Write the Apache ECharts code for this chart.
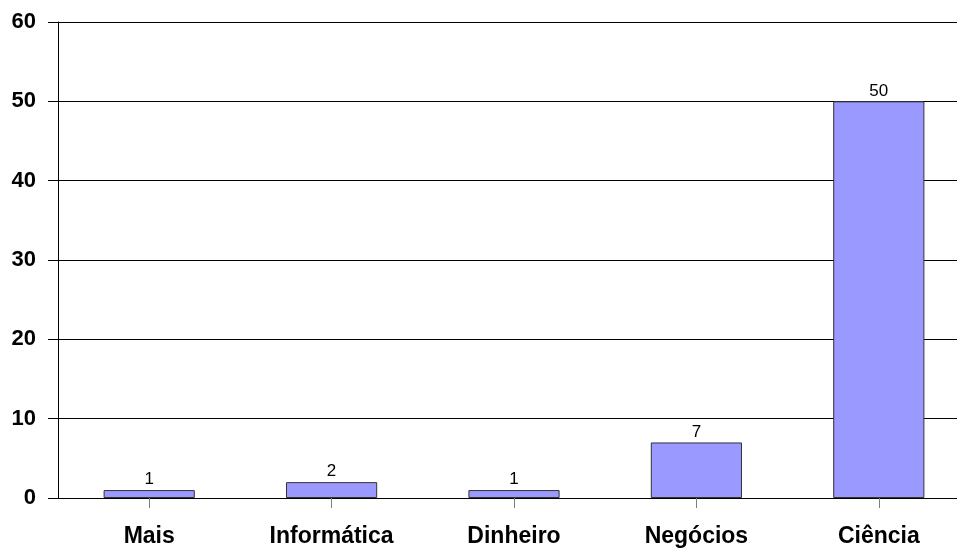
<!DOCTYPE html>
<html>
<head>
<meta charset="utf-8">
<script src="https://cdn.jsdelivr.net/npm/echarts@6/dist/echarts.min.js"></script>
<style>
  html, body { margin: 0; padding: 0; background: #fff; overflow: hidden; }
  #chart { width: 957px; height: 548px; }
</style>
</head>
<body>
<div id="chart"></div>
<script>
const categories = ['Mais', 'Informática', 'Dinheiro', 'Negócios', 'Ciência']
const values = [1, 2, 1, 7, 50]
const yMin = 0
const yMax = 60
const yStep = 10

const myChart = echarts.init(document.getElementById('chart'))
const options = {
  animation: false,
  backgroundColor: '#fff',
  // plot runs a little past the right edge, like the original
  grid: {
    left: 58,
    width: 912,
    top: 22,
    bottom: 50,
    containLabel: false,
    outerBoundsMode: 'none'
  },
  xAxis: {
    type: 'category',
    data: categories,
    axisLine: { lineStyle: { color: '#000', width: 1 } },
    axisTick: {
      show: true,
      alignWithLabel: true,
      length: 10,
      lineStyle: { color: '#808080' }
    },
    axisLabel: {
      margin: 27,
      color: '#000',
      fontFamily: 'Liberation Sans',
      fontWeight: 'bold',
      fontSize: 23
    }
  },
  yAxis: {
    type: 'value',
    min: yMin,
    max: yMax,
    interval: yStep,
    axisLine: { show: true, lineStyle: { color: '#000', width: 1 } },
    axisTick: { show: true, length: 10, lineStyle: { color: '#000' } },
    splitLine: { show: true, lineStyle: { color: '#000', width: 1 } },
    axisLabel: {
      margin: 22,
      color: '#000',
      fontFamily: 'Liberation Sans',
      fontWeight: 'bold',
      fontSize: 22
    }
  },
  series: [
    {
      type: 'bar',
      data: values,
      barCategoryGap: '50%',
      itemStyle: {
        color: '#9999ff',
        borderColor: '#333',
        borderWidth: 1
      },
      label: {
        show: true,
        position: 'top',
        distance: 2,
        color: '#000',
        fontFamily: 'Liberation Sans',
        fontSize: 17
      }
    }
  ]
}
myChart.setOption(options)
</script>
</body>
</html>
